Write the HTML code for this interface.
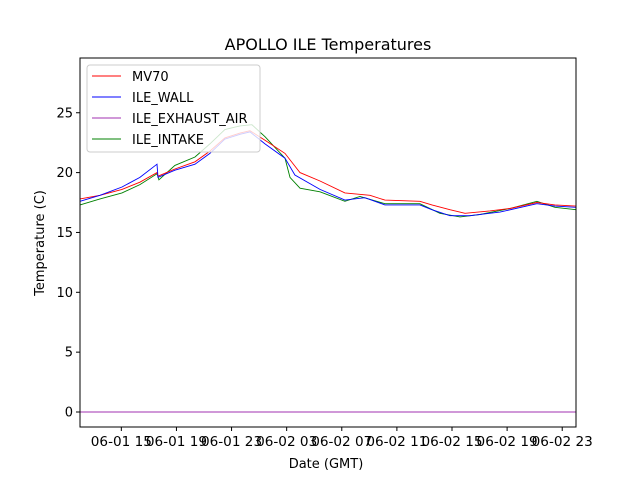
<!DOCTYPE html>
<html><head><meta charset="utf-8"><style>body{margin:0;background:#fff}svg{display:block;font-family:"DejaVu Sans","Liberation Sans",sans-serif}</style></head>
<body>
<svg id="c" width="640" height="480">
<rect width="640" height="480" fill="#fff"/>
<text x="328" y="50" font-size="16" text-anchor="middle">APOLLO ILE Temperatures</text>
<text x="326" y="468" font-size="13" text-anchor="middle">Date (GMT)</text>
<text transform="translate(44,243) rotate(-90)" font-size="13" text-anchor="middle">Temperature (C)</text>
<g id="plot"></g>
</svg>
<script>
const hours=[12,13.45,15.05,16.35,17.59,17.66,18.89,20.35,21.43,22.52,23.61,24.34,25.43,26.88,27.97,29.42,31.23,33.05,34.13,36.67,37.54,38.85,39.94,41.75,43.2,45.16,46.47,48];
const mv70=[17.8,18.1,18.6,19.2,20.0,19.7,20.3,20.9,21.8,22.9,23.3,23.5,22.7,21.6,20.0,19.3,18.3,18.1,17.7,17.6,17.3,16.9,16.6,16.8,17.0,17.5,17.3,17.2];
const wallHours=[12,13.45,15.05,16.35,17.59,17.66,18.89,20.35,21.43,22.52,23.61,24.34,25.43,26.88,27.6,29.42,31.23,32.68,34.13,36.67,37.54,38.85,40.3,42.48,45.16,46.47,48];
const wall=[17.6,18.1,18.8,19.6,20.7,19.6,20.2,20.7,21.6,22.8,23.2,23.4,22.4,21.2,19.8,18.6,17.7,17.9,17.3,17.3,16.9,16.4,16.4,16.7,17.4,17.2,17.1];
const intakeHours=[12,13.45,15.05,16.35,17.59,17.73,18.89,20.35,21.43,22.52,23.61,24.48,25.43,26.88,27.24,27.97,29.42,31.23,32.32,34.13,36.67,38.12,39.58,41.03,43.2,45.16,46.47,48];
const intake=[17.3,17.8,18.3,19.0,19.9,19.4,20.6,21.3,22.4,23.6,23.9,24.0,23.0,21.2,19.6,18.7,18.4,17.6,18.0,17.4,17.4,16.6,16.3,16.5,17.0,17.6,17.1,16.9];
const exhaustHours=[12,48];
const exhaust=[0,0];
const yTicks=[0,5,10,15,20,25];
const xTickHours=[15,19,23,27,31,35,39,43,47];
const xTickLabels=["06-01 15","06-01 19","06-01 23","06-02 03","06-02 07","06-02 11","06-02 15","06-02 19","06-02 23"];
const L=80,R=576,T=58,B=427;
const X=h=>L+(h-12)*(R-L)/36;
const Y=v=>412-v*11.97;
const NS="http://www.w3.org/2000/svg";
const g=document.getElementById('plot');
function mk(t,a){const e=document.createElementNS(NS,t);for(const k in a)e.setAttribute(k,a[k]);g.appendChild(e);return e;}
function series(hs,vs,col,name){
 const e=mk('polyline',{points:hs.map((h,i)=>X(h).toFixed(1)+','+Y(vs[i]).toFixed(1)).join(' '),fill:'none',stroke:col,'stroke-width':0.9});
 
 
}
series(exhaustHours,exhaust,'#a030b0','ile-exhaust-air-line');
series(intakeHours,intake,'green','ile-intake-line');
series(hours,mv70,'red','mv70-line');
series(wallHours,wall,'blue','ile-wall-line');
const frame=mk('rect',{x:L,y:T,width:R-L,height:B-T,fill:'none',stroke:'#000','stroke-width':1});


yTicks.forEach(v=>{
 mk('line',{x1:L-4,x2:L,y1:Y(v),y2:Y(v),stroke:'#000'});
 const t=mk('text',{x:L-7,y:Y(v)+4.5,'font-size':13,'text-anchor':'end'});t.textContent=v;
 
 
});
xTickHours.forEach((h,i)=>{
 mk('line',{x1:X(h),x2:X(h),y1:B,y2:B+4,stroke:'#000'});
 const t=mk('text',{x:X(h),y:B+19,'font-size':13.6,'text-anchor':'middle'});t.textContent=xTickLabels[i];
 
 
});
const lg=mk('rect',{x:87,y:65,width:173,height:87,rx:3,fill:'rgba(255,255,255,0.8)',stroke:'#ccc'});


const legendNames=["MV70","ILE_WALL","ILE_EXHAUST_AIR","ILE_INTAKE"];
const legendCols=["red","blue","#a030b0","green"];
legendNames.forEach((n,i)=>{
 const y=76+i*21;
 mk('line',{x1:92,x2:121,y1:y,y2:y,stroke:legendCols[i],'stroke-width':0.9});
 const t=mk('text',{x:132,y:y+5,'font-size':13});t.textContent=n;
 
 
});
</script>
</body></html>
